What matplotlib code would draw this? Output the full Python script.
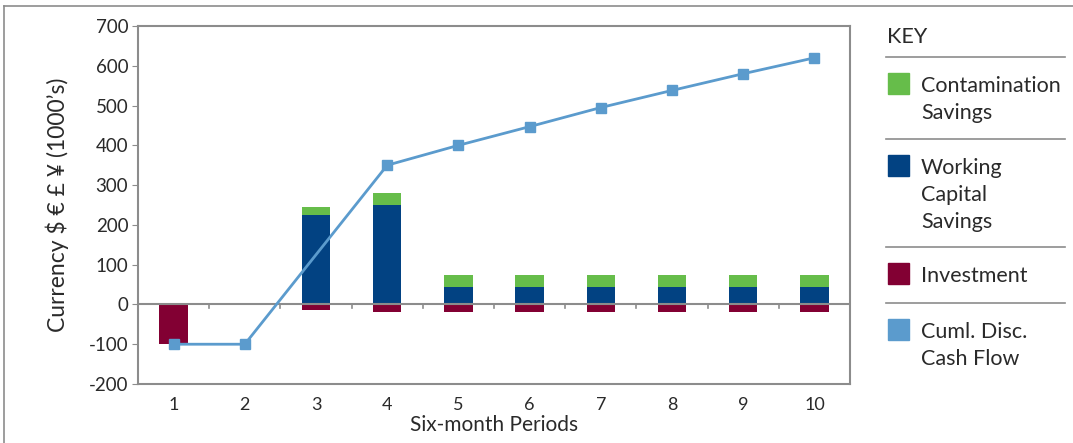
import numpy as np
import matplotlib.pyplot as plt
from matplotlib.patches import Rectangle
from matplotlib.lines import Line2D

plt.rcParams['font.family'] = ['Lato', 'DejaVu Sans']
plt.rcParams['axes.unicode_minus'] = False

periods = [1, 2, 3, 4, 5, 6, 7, 8, 9, 10]
investment = [-100, 0, -13, -18, -18, -18, -18, -18, -18, -18]
working_capital = [0, 0, 226, 251, 45, 45, 45, 45, 45, 45]
contamination = [0, 0, 18, 28, 28, 28, 28, 28, 28, 28]
cum_cash_flow = [-100, -100, 125, 350, 400, 447, 495, 538, 580, 620]

c_green = '#66bd4a'
c_blue = '#024282'
c_red = '#820033'
c_line = '#5b9bcd'
c_text = '#2a2a2a'
c_grey = '#8c8c8c'

W, H = 1073, 443
fig = plt.figure(figsize=(W / 100, H / 100), dpi=100)

def fx(px):
    return px / W

def fy(py):
    return 1 - py / H

ax = fig.add_axes([fx(138), fy(384), fx(850) - fx(138), fy(26) - fy(384)])

x = np.array(periods)
ax.bar(x, investment, width=0.4, color=c_red, zorder=2)
ax.bar(x, working_capital, width=0.4, color=c_blue, zorder=2)
ax.bar(x, contamination, width=0.4, bottom=working_capital, color=c_green, zorder=2)
ax.axhline(0, color=c_grey, lw=1.5, zorder=3)
# x ticks sit between categories on the zero line
for xt in np.arange(1.5, 10.5, 1):
    ax.plot([xt, xt], [0, -8], color=c_grey, lw=1.2, zorder=3)

marks = [i for i in range(len(periods)) if i != 2]
ax.plot(x, cum_cash_flow, color=c_line, lw=2, marker='s', ms=7,
        markevery=marks, zorder=4)

ax.set_xlim(0.5, 10.5)
ax.set_ylim(-200, 700)
ax.set_yticks(range(-200, 701, 100))
ax.set_xticks(periods)
ax.tick_params(axis='x', length=0, pad=9, labelsize=13, colors=c_text)
ax.tick_params(axis='y', length=4, color=c_grey, labelsize=13.5, colors=c_text, pad=3)
for s in ax.spines.values():
    s.set_color(c_grey)
    s.set_linewidth(1.5)
ax.set_xlabel('Six-month Periods', fontsize=15, color=c_text, labelpad=2)
ax.set_ylabel('Currency $ € £ ¥ (1000’s)', fontsize=16.5, color=c_text, labelpad=14)

# figure border (left and top edges)
fig.add_artist(Line2D([fx(4), fx(4)], [0, fy(6)], color=c_grey, lw=1.2))
fig.add_artist(Line2D([fx(4), 1], [fy(6), fy(6)], color=c_grey, lw=1.2))

# key panel
fig.text(fx(887), fy(37), 'KEY', fontsize=15.5, color=c_text, va='center', ha='left')
for sy in [57, 139, 247, 303]:
    fig.add_artist(Line2D([fx(886), fx(1065)], [fy(sy), fy(sy)], color=c_grey, lw=1.2))

key_items = [
    (c_green, 73, 'Contamination\nSavings'),
    (c_blue, 155, 'Working\nCapital\nSavings'),
    (c_red, 263, 'Investment'),
    (c_line, 319, 'Cuml. Disc.\nCash Flow'),
]
for col, top, label in key_items:
    fig.add_artist(Rectangle((fx(888), fy(top + 21)), fx(21), fy(top) - fy(top + 21),
                             color=col, transform=fig.transFigure))
    fig.text(fx(921), fy(top + 3), label, fontsize=15.5, color=c_text,
             va='top', ha='left', linespacing=1.45)

fig.savefig('out.png', dpi=100)
